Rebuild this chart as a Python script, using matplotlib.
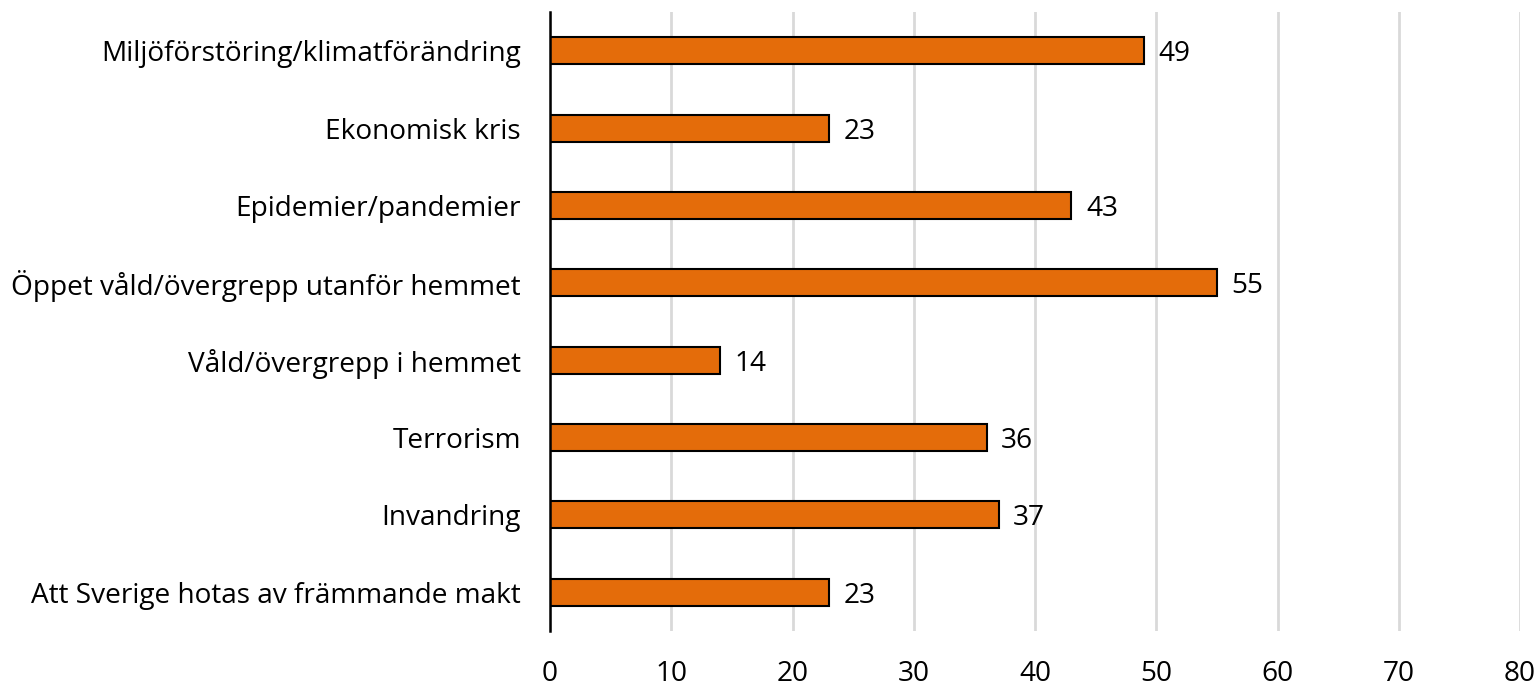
import matplotlib
matplotlib.use('Agg')
import matplotlib.pyplot as plt
import numpy as np

categories = [
    "Miljöförstöring/klimatförändring",
    "Ekonomisk kris",
    "Epidemier/pandemier",
    "Öppet våld/övergrepp utanför hemmet",
    "Våld/övergrepp i hemmet",
    "Terrorism",
    "Invandring",
    "Att Sverige hotas av främmande makt",
]
values = [49, 23, 43, 55, 14, 36, 37, 23]
x_ticks = [0, 10, 20, 30, 40, 50, 60, 70, 80]

plt.rcParams['font.family'] = ['Open Sans', 'DejaVu Sans']
fs = 20.2

fig = plt.figure(figsize=(15.39, 6.86), dpi=100)
ax = fig.add_axes([550 / 1539, 1 - 631 / 686, 970 / 1539, 619 / 686])

y = np.arange(len(categories))
ax.barh(y, values, height=0.35, color='#E46C0A', edgecolor='black', linewidth=1.5, zorder=3)
for yi, v in zip(y, values):
    ax.text(v + 1.2, yi, str(v), va='center_baseline', ha='left', fontsize=fs, color='black')

ax.set_ylim(len(categories) - 0.5, -0.5)
ax.set_xlim(0, 80)
ax.set_yticks(y)
ax.set_yticklabels(categories, fontsize=fs, va='center_baseline')
ax.set_xticks(x_ticks)
ax.set_xticklabels([str(t) for t in x_ticks], fontsize=fs)
ax.tick_params(axis='y', length=0, pad=21)
ax.tick_params(axis='x', length=0, pad=21)

ax.grid(axis='x', color='#D9D9D9', linewidth=2, zorder=0)
for s in ['top', 'right', 'bottom']:
    ax.spines[s].set_visible(False)
ax.spines['left'].set_linewidth(1.8)
ax.spines['left'].set_zorder(4)

plt.savefig('out.png', dpi=100)
plt.close()
